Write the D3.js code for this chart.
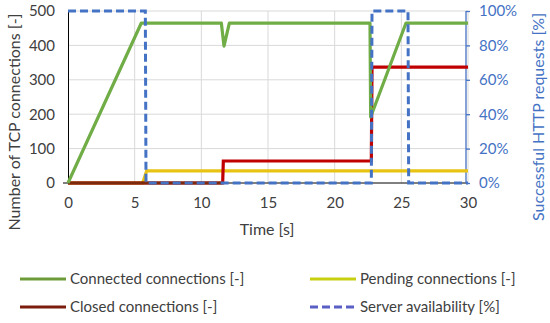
<!DOCTYPE html>
<html><head><meta charset="utf-8">
<script src="https://cdn.jsdelivr.net/npm/d3@7"></script>
<style>
body{margin:0;background:#fff;}
text{font-family:Lato,sans-serif;}
</style></head>
<body><svg id="c" width="550" height="323"></svg>
<script>
// data
const connectedTime = [0, 5.5, 11.5, 11.7, 12.1, 22.65, 22.7, 25.35, 30];
const connectedVals = [0, 465, 465, 398, 465, 465, 192, 465, 465];
const pendingTime = [0, 5.6, 5.9, 30];
const pendingVals = [0, 0, 35, 35];
const closedTime = [0, 11.6, 11.65, 22.75, 22.8, 30];
const closedVals = [0, 0, 64, 64, 337, 337];
const availTime = [0, 5.8, 5.85, 22.75, 22.8, 25.5, 25.55, 30];
const availVals = [100, 100, 0, 0, 100, 100, 0, 0];
const xTicks = [0, 5, 10, 15, 20, 25, 30];
const yTicks = [0, 100, 200, 300, 400, 500];
const y2Ticks = [0, 20, 40, 60, 80, 100];
const legendLabels = ["Connected connections [-]", "Pending connections [-]", "Closed connections [-]", "Server availability [%]"];

const svg = d3.select("#c");
const L = 68, R = 468, T = 11, B = 183;
const x = d3.scaleLinear().domain([0, 30]).range([L, R]);
const y = d3.scaleLinear().domain([0, 500]).range([B, T]);
const y2 = d3.scaleLinear().domain([0, 100]).range([B, T]);

// grid
svg.append("g").selectAll("line").data(yTicks.slice(1)).join("line")
  .attr("x1", L).attr("x2", R).attr("y1", d => y(d)).attr("y2", d => y(d))
  .attr("stroke", "#d9d9d9").attr("stroke-width", 1);
svg.append("g").selectAll("line").data(xTicks.slice(1)).join("line")
  .attr("x1", d => x(d)).attr("x2", d => x(d)).attr("y1", T).attr("y2", B)
  .attr("stroke", "#d9d9d9").attr("stroke-width", 1);

// axes
const fs = "15px";
const gx = svg.append("g").attr("transform", `translate(0,${B})`)
  .call(d3.axisBottom(x).tickValues(xTicks).tickSize(0).tickPadding(14));
gx.select(".domain").attr("stroke", "#000").attr("d", `M${L-5},0H${R}`);
gx.selectAll("text").attr("font-size", fs).attr("fill", "#404040").attr("font-family", "Lato");

const gy = svg.append("g").attr("transform", `translate(${L},0)`)
  .call(d3.axisLeft(y).tickValues(yTicks).tickSize(0).tickPadding(13));
gy.select(".domain").attr("stroke", "#000");
gy.selectAll("text").attr("font-size", fs).attr("fill", "#404040").attr("font-family", "Lato");

const gy2 = svg.append("g").attr("transform", `translate(${R-2},0)`)
  .call(d3.axisRight(y2).tickValues(y2Ticks).tickSize(4).tickPadding(9).tickFormat(d => d + "%"));
gy2.select(".domain").attr("stroke", "#4472c4").attr("stroke-width", 1.3).attr("d", `M0,${B}V${T}`);
gy2.selectAll(".tick line").attr("stroke", "#4472c4").attr("stroke-width", 1.3);
gy2.selectAll("text").attr("font-size", fs).attr("fill", "#4472c4").attr("font-family", "Lato");

// titles
svg.append("text").attr("x", 267).attr("y", 235).attr("text-anchor", "middle")
  .attr("font-size", "16px").attr("fill", "#404040").text("Time [s]");
svg.append("text").attr("transform", "translate(20,122) rotate(-90)").attr("text-anchor", "middle")
  .attr("font-size", "16px").attr("fill", "#404040").text("Number of TCP connections [-]");
svg.append("text").attr("transform", "translate(544,117) rotate(-90)").attr("text-anchor", "middle")
  .attr("font-size", "16px").attr("fill", "#4472c4").text("Successful HTTP requests [%]");

// lines
const line = (ys) => d3.line().x(d => x(d[0])).y(d => ys(d[1]));
const zip = (a, b) => a.map((t, i) => [t, b[i]]);
const plotArea = svg.append("g");

plotArea.append("path").datum(zip(pendingTime, pendingVals)).attr("d", line(y))
  .attr("fill", "none").attr("stroke", "#e8c313").attr("stroke-width", 3.2);
const closedData = zip(closedTime, closedVals);
plotArea.append("path").datum(closedData).attr("d", line(y))
  .attr("fill", "none").attr("stroke", "#c00000").attr("stroke-width", 3.2);
plotArea.append("path").datum(closedData.filter((d, i) => i < 2)).attr("d", line(y))
  .attr("fill", "none").attr("stroke", "#7b2a0e").attr("stroke-width", 3.2);
plotArea.append("path").datum(zip(connectedTime, connectedVals)).attr("d", line(y))
  .attr("fill", "none").attr("stroke", "#70ad47").attr("stroke-width", 3.2).attr("stroke-linejoin", "round");
plotArea.append("path").datum(zip(availTime, availVals)).attr("d", line(y2))
  .attr("fill", "none").attr("stroke", "#4472c4").attr("stroke-width", 3).attr("stroke-dasharray", "8,4");

// legend
const legColors = ["#6e9b3a", "#c8cf10", "#7b1c0c", "#5a5fc6"];
const legPos = [[20, 279], [310, 279], [20, 307], [310, 307]];
const lg = svg.append("g").selectAll("g").data(legendLabels).join("g")
  .attr("transform", (d, i) => `translate(${legPos[i][0]},${legPos[i][1]})`);
lg.append("line").attr("x1", 0).attr("x2", 46).attr("y1", 0).attr("y2", 0)
  .attr("stroke", (d, i) => legColors[i]).attr("stroke-width", 3.2)
  .attr("stroke-dasharray", (d, i) => i === 3 ? "8,4" : null);
lg.append("text").attr("x", 50).attr("y", 0).attr("dy", "0.35em")
  .attr("font-size", "15px").attr("fill", "#404040").text(d => d);
</script></body></html>
